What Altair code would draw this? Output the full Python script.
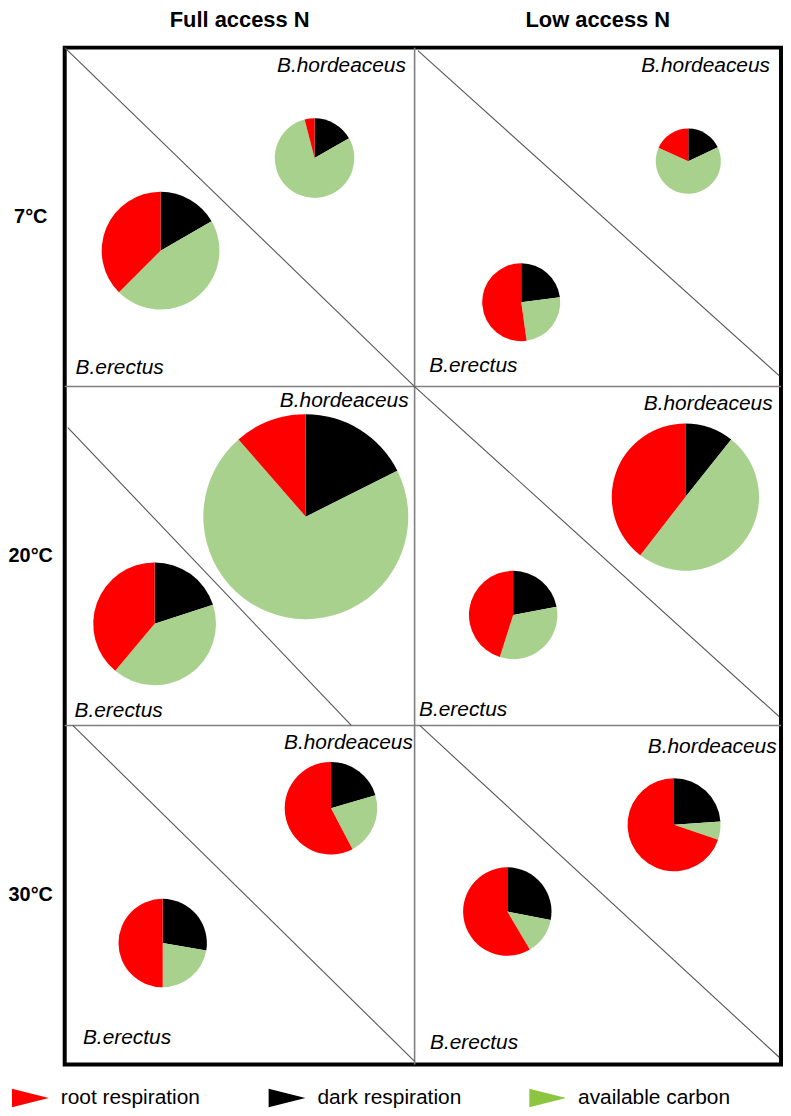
import altair as alt
import pandas as pd

# ---------------- categories ----------------
nitrogen = ["Full access N", "Low access N"]          # columns
temperature = ["7°C", "20°C", "30°C"]                  # rows
species = ["B.hordeaceus", "B.erectus"]
components = ["dark respiration", "available carbon", "root respiration"]  # clockwise order from 12 o'clock
legend_order = ["root respiration", "dark respiration", "available carbon"]

# panels in row-major order: (7°C Full, 7°C Low, 20°C Full, 20°C Low, 30°C Full, 30°C Low)
panel_row = [0, 0, 1, 1, 2, 2]
panel_col = [0, 1, 0, 1, 0, 1]

# ---------------- series values (fractions of each pie) ----------------
hord_root = [0.040, 0.183, 0.114, 0.395, 0.577, 0.698]
hord_dark = [0.167, 0.180, 0.176, 0.107, 0.205, 0.239]
hord_avail = [0.793, 0.637, 0.710, 0.498, 0.218, 0.063]
hord_total = [15.1, 10.1, 100.0, 51.6, 20.4, 20.6]     # relative pie size (area)

erec_root = [0.375, 0.522, 0.389, 0.451, 0.500, 0.585]
erec_dark = [0.167, 0.230, 0.200, 0.220, 0.277, 0.281]
erec_avail = [0.458, 0.248, 0.411, 0.329, 0.223, 0.134]
erec_total = [33.0, 14.5, 35.9, 18.6, 18.6, 18.6]

# ---------------- layout inside each panel (panel-relative units) ----------------
hord_cx = [0.714, 0.747, 0.689, 0.739, 0.761, 0.708]
hord_cy = [0.326, 0.335, 0.384, 0.326, 0.244, 0.293]
erec_cx = [0.274, 0.291, 0.257, 0.269, 0.280, 0.253]
erec_cy = [0.599, 0.751, 0.700, 0.674, 0.642, 0.549]
diag_x1 = [0.000, 0.009, 0.009, 0.000, 0.023, 0.014]
diag_y1 = [0.000, 0.009, 0.121, 0.000, 0.000, 0.000]
diag_x2 = [1.000, 0.995, 0.819, 0.995, 1.000, 0.995]
diag_y2 = [1.000, 0.968, 1.000, 0.974, 0.991, 0.979]
hord_lx = [0.975, 0.970, 0.983, 0.977, 0.995, 0.988]
hord_ly = [0.073, 0.073, 0.061, 0.068, 0.070, 0.080]
erec_lx = [0.031, 0.040, 0.028, 0.012, 0.052, 0.042]
erec_ly = [0.962, 0.958, 0.976, 0.971, 0.941, 0.955]

pie_colors = ["#000000", "#a9d18e", "#ff0000"]
legend_colors = ["#ff0000", "#000000", "#8cc640"]
FONT = "Liberation Sans"

# ---------------- tables ----------------
arc_rows = []
for i in range(6):
    r, c = panel_row[i], panel_col[i]
    for sp, fr, tot, cx, cy in [
        (species[0], [hord_dark[i], hord_avail[i], hord_root[i]], hord_total[i], hord_cx[i], hord_cy[i]),
        (species[1], [erec_dark[i], erec_avail[i], erec_root[i]], erec_total[i], erec_cx[i], erec_cy[i]),
    ]:
        s = sum(fr)
        start = 0.0
        for comp, f in zip(components, fr):
            arc_rows.append(dict(panel=i, species=sp, component=comp,
                                 t0=start, t1=start + f / s, total=tot,
                                 cx=c + cx, cy=r + cy))
            start += f / s
arcs = pd.DataFrame(arc_rows)

diag = pd.DataFrame(dict(
    x1=[panel_col[i] + diag_x1[i] for i in range(6)],
    y1=[panel_row[i] + diag_y1[i] for i in range(6)],
    x2=[panel_col[i] + diag_x2[i] for i in range(6)],
    y2=[panel_row[i] + diag_y2[i] for i in range(6)],
))

ncol, nrow = len(nitrogen), len(temperature)
dividers = pd.DataFrame(
    [dict(x1=k, y1=0, x2=k, y2=nrow) for k in range(1, ncol)] +
    [dict(x1=0, y1=k, x2=ncol, y2=k) for k in range(1, nrow)]
)

hord_lab = pd.DataFrame(dict(
    x=[panel_col[i] + hord_lx[i] for i in range(6)],
    y=[panel_row[i] + hord_ly[i] for i in range(6)],
    t=[species[0]] * 6))
erec_lab = pd.DataFrame(dict(
    x=[panel_col[i] + erec_lx[i] for i in range(6)],
    y=[panel_row[i] + erec_ly[i] for i in range(6)],
    t=[species[1]] * 6))

headers = pd.DataFrame(dict(x=[k + 0.5 for k in range(ncol)], y=[-0.062] * ncol, t=nitrogen))
rowlabs = pd.DataFrame(dict(x=[-0.097] * nrow, y=[k + 0.5 for k in range(nrow)], t=temperature))
legend_df = pd.DataFrame(dict(component=legend_order, lx=[0.0] * 3, ly=[0.0] * 3))

# ---------------- scales ----------------
xs = alt.Scale(domain=[0, 1, 2], range=[0, 351.7, 720], zero=False, nice=False)
ys = alt.Scale(domain=[0, 3], reverse=True, zero=False, nice=False)

def X(f):
    return alt.X(f, type="quantitative", scale=xs, axis=None)

def Y(f):
    return alt.Y(f, type="quantitative", scale=ys, axis=None)

divider_layer = alt.Chart(dividers).mark_rule(color="#7f7f7f", strokeWidth=1.6).encode(
    x=X("x1"), y=Y("y1"), x2="x2", y2="y2")

diag_layer = alt.Chart(diag).mark_rule(color="#555555", strokeWidth=1.1).encode(
    x=X("x1"), y=Y("y1"), x2="x2", y2="y2")

arc_layer = alt.Chart(arcs).mark_arc().encode(
    x=X("cx"), y=Y("cy"),
    theta=alt.Theta("t0:Q", scale=alt.Scale(domain=[0, 1]), stack=None),
    theta2="t1:Q",
    radius=alt.Radius("total:Q", scale=alt.Scale(type="sqrt", domain=[0, 100], range=[0, 103], zero=True)),
    color=alt.Color("component:N", scale=alt.Scale(domain=components, range=pie_colors), legend=None),
)

hord_text = alt.Chart(hord_lab).mark_text(
    align="right", baseline="alphabetic", font=FONT, fontSize=21, fontStyle="italic", color="black"
).encode(x=X("x"), y=Y("y"), text="t:N")

erec_text = alt.Chart(erec_lab).mark_text(
    align="left", baseline="alphabetic", font=FONT, fontSize=21, fontStyle="italic", color="black"
).encode(x=X("x"), y=Y("y"), text="t:N")

head_text = alt.Chart(headers).mark_text(
    align="center", baseline="alphabetic", font=FONT, fontSize=22, fontWeight="bold", color="black"
).encode(x=X("x"), y=Y("y"), text="t:N")

row_text = alt.Chart(rowlabs).mark_text(
    align="center", baseline="middle", font=FONT, fontSize=20, fontWeight="bold", color="black"
).encode(x=X("x"), y=Y("y"), text="t:N")

tri = "M-1,-0.5L1,0L-1,0.5Z"
legend_layer = alt.Chart(legend_df).mark_point(filled=True, opacity=0, shape=tri).encode(
    x=X("lx"), y=Y("ly"),
    color=alt.Color("component:N",
                    scale=alt.Scale(domain=legend_order, range=legend_colors),
                    legend=alt.Legend(orient="none", legendX=-53, legendY=1037,
                                      direction="horizontal", title=None,
                                      symbolType=tri, symbolSize=1369, symbolOpacity=1,
                                      symbolStrokeWidth=0, labelFont=FONT, labelFontSize=21,
                                      labelColor="black", labelOffset=12, labelLimit=400,
                                      columnPadding=68, padding=0)),
)

chart = alt.layer(
    divider_layer, diag_layer, arc_layer, hord_text, erec_text, head_text, row_text, legend_layer
).resolve_scale(color="independent").properties(
    width=720, height=1022,
    padding={"left": 57, "top": 37, "right": 2, "bottom": 41},
    autosize=alt.AutoSizeParams(type="none"),
    background="white",
).configure_view(stroke="black", strokeWidth=4)

chart.save("out.html", embed_options={"renderer": "svg", "actions": False})
